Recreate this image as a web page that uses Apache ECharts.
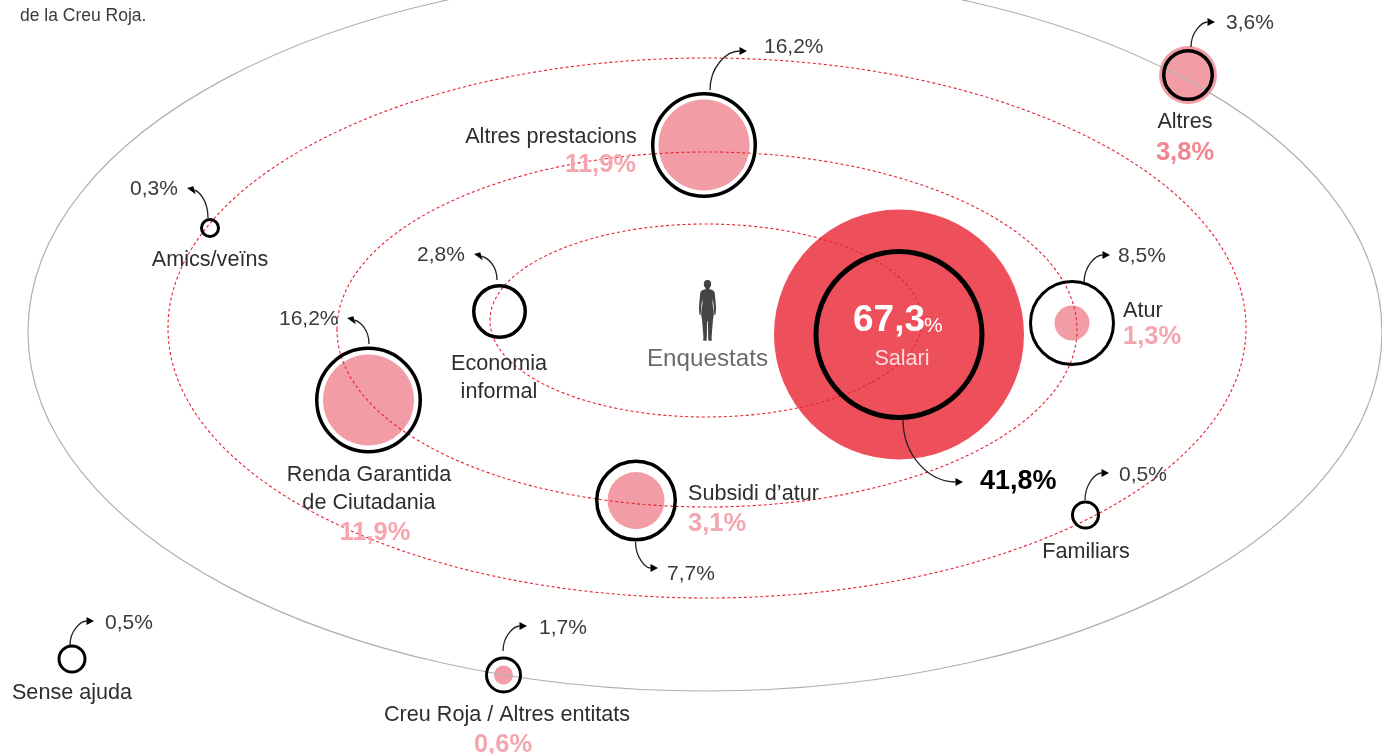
<!DOCTYPE html>
<html>
<head>
<meta charset="utf-8">
<title>Enquestats</title>
<script src="https://cdn.jsdelivr.net/npm/echarts@6/dist/echarts.min.js"></script>
<style>
html,body{margin:0;padding:0;background:#fff}
#main{width:1382px;height:754px}
</style>
</head>
<body>
<div id="main"></div>
<script>
// dades
const nodeNames = ['Salari','Altres prestacions','Altres','Amics/veïns','Economia\ninformal','Renda Garantida\nde Ciutadania','Atur','Subsidi d’atur','Familiars','Sense ajuda','Creu Roja / Altres entitats']
const ringValues = [41.8,16.2,3.6,0.3,2.8,16.2,8.5,7.7,0.5,0.5,1.7]
const fillValues = [67.3,11.9,3.8,null,null,11.9,1.3,3.1,null,null,0.6]
const centerLabel = 'Enquestats'
const noteLabel = 'de la Creu Roja.'

// layout del diagrama, en unitats dels eixos
const nodeX = [899,704,1188,210,499.5,368.5,1072,636,1085.5,72,503.5]
const nodeY = [334.5,145,75,228,311.5,400,323,500.5,515,659,675]
const ringR = [85.5,53,26,10,27.5,53.5,43,41,14.5,14.5,18.5]
const ringW = [5,3.5,3.5,3,3.5,3.5,3,3.5,3,3,3]
const fillR = [125,45.5,29,0,0,45.5,17.5,28.5,0,0,9.5]
const orbitCx = [705,707,707,706]
const orbitCy = [332,328,329.5,320.5]
const orbitRx = [677,539,370,216]
const orbitRy = [359,270,177.5,96.5]
const arrowFromX = [903,710,1191,208,497,369,1084,635.5,1085,70,503]
const arrowFromY = [419,90,47,218,280,344,283,542,500,645,651]
const arrowToX = [963,747,1215,187,474,347,1110,658,1109,94,527]
const arrowToY = [482,51,22,188,254,318,255,568,473,621,626]
const ringLabelX = [980,764,1226,130,417,279,1118,667,1119,105,539]
const ringLabelY = [480,46,22,188,254,318,255,573,474,622,627]
const nameX = [902,551,1185,210,499,369,1123,688,1086,72,507]
const nameY = [358,136,121,259,377,488,310,493,551,692,714]
const nameAlign = ['center','center','center','center','center','center','left','left','center','center','center']
const fillLabelX = [853,636,1185,0,0,375,1123,688,0,0,503]
const fillLabelY = [320,163,151,0,0,531,335,522,0,0,743]
const fillLabelAlign = ['left','right','center','','','center','left','left','','','center']

const FONT = '"Liberation Sans", Arial, sans-serif'
const pct = v => v.toFixed(1).replace('.',',') + '%'

const personPath = 'path://M25 0C32 0 36 6 35 13C35 18 32 22 30 24L31 27C38 29 44 31 45 38L48 72C49 82 48 92 47 103L44 103L42 75L39 56C38 70 40 78 42 90C43 98 42 108 40 118L36 172L38 178L28 180L27 172L26 122L24 122L23 172L22 180L12 178L14 172L10 118C8 108 7 98 8 90C10 78 12 70 11 56L8 75L6 103L3 103C2 92 1 82 2 72L5 38C6 31 12 29 19 27L20 24C18 22 15 18 15 13C14 6 18 0 25 0Z'

// tots els textos (dy: el text de la llibreria queda una mica alt)
let texts = []
function addText(text,x,y,size,weight,color,align){
  const dy = weight === 'bold' ? 2 : 1
  texts.push({text,x,y:y+dy,size,weight,color,align})
}
nodeNames.forEach((name,i)=>{
  if(i === 0){
    addText(name,nameX[i],nameY[i],21.6,'normal','#fbdcdf',nameAlign[i])
    addText(pct(ringValues[i]),ringLabelX[i],ringLabelY[i],27,'bold','#000','left')
    // 67,3 gran i el % petit
    addText(fillValues[i].toFixed(1).replace('.',','),fillLabelX[i],fillLabelY[i]-1,37,'bold','#fff','left')
    addText('%',fillLabelX[i]+71,fillLabelY[i]+5,21,'normal','#fff','left')
    return
  }
  addText(name,nameX[i],nameY[i],21.6,'normal','#2e2e2e',nameAlign[i])
  addText(pct(ringValues[i]),ringLabelX[i],ringLabelY[i],21,'normal','#3a3a3a','left')
  if(fillValues[i] !== null){
    addText(pct(fillValues[i]),fillLabelX[i],fillLabelY[i],25.5,'bold',i === 2 ? '#f2858f' : '#f5a5ae',fillLabelAlign[i])
  }
})
addText(centerLabel,707.5,358,24.2,'normal','#6a6a6a','center')
addText(noteLabel,20,15,17.5,'normal','#3a3a3a','left')

const chart = echarts.init(document.getElementById('main'))
chart.setOption({
  animation:false,
  tooltip:{show:false},
  grid:{left:0,right:0,top:0,bottom:0},
  xAxis:{type:'value',min:0,max:1382,show:false},
  yAxis:{type:'value',min:0,max:754,inverse:true,show:false},
  series:[
    {
      // cercles de color
      type:'scatter',
      z:1,
      silent:true,
      data:fillR.map((r,i)=>({
        value:[nodeX[i],nodeY[i]],
        symbolSize:r*2,
        itemStyle:{color:i === 0 ? '#ed4f5b' : '#f29da6',opacity:r ? 1 : 0}
      }))
    },
    {
      // orbites
      type:'custom',
      z:2,
      silent:true,
      data:orbitCx.map((c,i)=>[c,orbitCy[i],orbitRx[i],orbitRy[i]]),
      renderItem:function(params,api){
        const c = api.coord([api.value(0),api.value(1)])
        const s = api.size([api.value(2),api.value(3)])
        const outer = params.dataIndex === 0
        return {
          type:'ellipse',
          shape:{cx:c[0],cy:c[1],rx:s[0],ry:s[1]},
          style:{
            fill:'none',
            stroke:outer ? '#b0b0b0' : '#e8202f',
            lineWidth:outer ? 1.2 : 1.1,
            lineDash:outer ? null : [3,2.5]
          }
        }
      }
    },
    {
      // anells negres
      type:'scatter',
      z:3,
      silent:true,
      data:ringR.map((r,i)=>({
        value:[nodeX[i],nodeY[i]],
        symbolSize:(r-ringW[i]/2)*2,
        itemStyle:{color:'rgba(0,0,0,0)',borderColor:'#000',borderWidth:ringW[i],opacity:1}
      }))
    },
    {
      // fletxes
      type:'custom',
      z:4,
      silent:true,
      data:arrowFromX.map((x,i)=>[x,arrowFromY[i],arrowToX[i],arrowToY[i]]),
      renderItem:function(params,api){
        const a = api.coord([api.value(0),api.value(1)])
        const b = api.coord([api.value(2),api.value(3)])
        const dx = b[0]-a[0], dy = b[1]-a[1]
        const dirX = dx > 0 ? 1 : -1
        const tilt = dx > 0 ? 0 : 0.3
        const bx = b[0]-dirX*7.5
        const by = b[1]+tilt*7.5
        return {
          type:'group',
          children:[
            {
              type:'bezierCurve',
              shape:{
                x1:a[0],y1:a[1],x2:bx,y2:by,
                cpx1:a[0],cpy1:a[1]+dy*0.6,
                cpx2:a[0]+dx*0.45,cpy2:b[1]+tilt*Math.abs(dx)*0.5
              },
              style:{fill:'none',stroke:'#222',lineWidth:1.3}
            },
            {
              type:'polygon',
              shape:{points:[
                [b[0],b[1]],
                [bx-tilt*4,by-4],
                [bx+tilt*4,by+4]
              ]},
              style:{fill:'#000'}
            }
          ]
        }
      }
    },
    {
      // silueta
      type:'scatter',
      z:5,
      silent:true,
      symbol:personPath,
      symbolKeepAspect:false,
      symbolSize:[17,61],
      itemStyle:{color:'#444',opacity:1},
      data:[[707.5,310.5]]
    },
    {
      // textos
      type:'custom',
      z:6,
      silent:true,
      data:texts.map(t=>[t.x,t.y]),
      renderItem:function(params,api){
        const t = texts[params.dataIndex]
        const p = api.coord([api.value(0),api.value(1)])
        return {
          type:'text',
          x:p[0],
          y:p[1],
          style:{
            text:t.text,
            fill:t.color,
            font:t.weight+' '+t.size+'px '+FONT,
            lineHeight:27.5,
            align:t.align,
            verticalAlign:'middle'
          }
        }
      }
    }
  ]
})
</script>
</body>
</html>
